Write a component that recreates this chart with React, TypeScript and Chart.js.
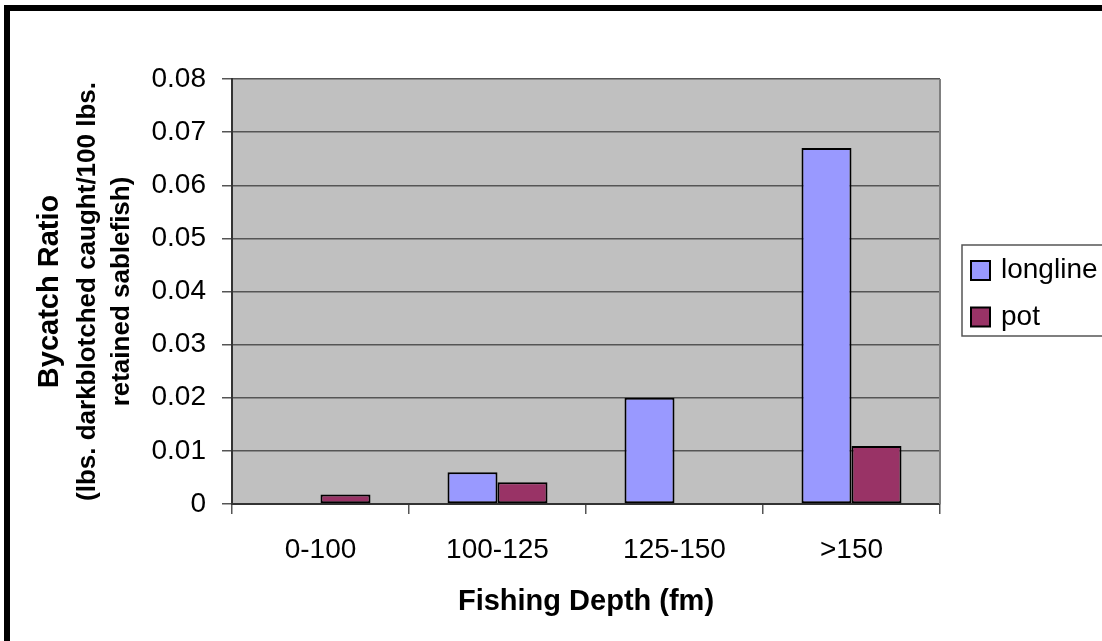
import React, { useEffect, useRef } from "react";
import { Chart, registerables } from "chart.js";

Chart.register(...registerables);

const categories = ["0-100", "100-125", "125-150", ">150"];
const longline = [null, 0.006, 0.02, 0.067];
const pot = [0.0018, 0.0041, null, 0.0109];
const seriesLabels = ["longline", "pot"];
const seriesColors = ["#9999FF", "#993366"];
const yTitleLines = ["Bycatch Ratio", "(lbs. darkblotched caught/100 lbs.", "retained sablefish)"];
const xTitle = "Fishing Depth (fm)";

const FONT = "'Liberation Sans', Arial, sans-serif";

const decorPlugin = {
  id: "decor",
  beforeDraw(chart: any) {
    const { ctx, chartArea } = chart;
    ctx.save();
    ctx.fillStyle = "#ffffff";
    ctx.fillRect(0, 0, chart.width, chart.height);
    ctx.fillStyle = "#C0C0C0";
    ctx.fillRect(chartArea.left, chartArea.top, chartArea.right - chartArea.left, chartArea.bottom - chartArea.top);
    ctx.restore();
  },
  afterDraw(chart: any) {
    const { ctx, chartArea } = chart;
    ctx.save();
    // plot area right border
    ctx.strokeStyle = "#808080";
    ctx.lineWidth = 2;
    ctx.beginPath();
    ctx.moveTo(chartArea.right, chartArea.top);
    ctx.lineTo(chartArea.right, chartArea.bottom);
    ctx.stroke();
    // outer black frame
    ctx.fillStyle = "#000000";
    ctx.fillRect(4, 5, chart.width, 6);
    ctx.fillRect(4, 5, 6, chart.height);
    // y title
    const cy = (chartArea.top + chartArea.bottom) / 2;
    ctx.fillStyle = "#000000";
    ctx.textAlign = "center";
    ctx.textBaseline = "middle";
    const xs = [50, 88, 122];
    const sizes = [29, 26, 26];
    yTitleLines.forEach((line, i) => {
      ctx.save();
      ctx.translate(xs[i], cy);
      ctx.rotate(-Math.PI / 2);
      ctx.font = `bold ${sizes[i]}px ${FONT}`;
      ctx.fillText(line, 0, 0);
      ctx.restore();
    });
    // x title
    ctx.font = `bold 29px ${FONT}`;
    ctx.fillText(xTitle, (chartArea.left + chartArea.right) / 2, 602);
    // legend
    const lx = 962, ly = 245, lb = 336;
    ctx.fillStyle = "#ffffff";
    ctx.fillRect(lx, ly, 200, lb - ly);
    ctx.strokeStyle = "#555555";
    ctx.lineWidth = 1.5;
    ctx.strokeRect(lx, ly, 200, lb - ly);
    const rows = [270.5, 317];
    chart.data.datasets.forEach((ds: any, i: number) => {
      const y = rows[i];
      ctx.fillStyle = ds.backgroundColor;
      ctx.fillRect(971, y - 9.5, 19, 19);
      ctx.strokeStyle = "#000000";
      ctx.lineWidth = 2;
      ctx.strokeRect(971, y - 9.5, 19, 19);
      ctx.fillStyle = "#000000";
      ctx.font = `28px ${FONT}`;
      ctx.textAlign = "left";
      ctx.textBaseline = "middle";
      ctx.fillText(ds.label, 1001, y);
    });
    ctx.restore();
  },
};

export default function App() {
  const ref = useRef<HTMLCanvasElement | null>(null);
  useEffect(() => {
    document.body.style.margin = "0";
    const chart = new Chart(ref.current as HTMLCanvasElement, {
      type: "bar",
      data: {
        labels: categories,
        datasets: [
          {
            label: seriesLabels[0],
            data: longline,
            backgroundColor: seriesColors[0],
            borderColor: "#000000",
            borderWidth: 2,
            borderSkipped: false,
            categoryPercentage: 0.565,
            barPercentage: 1,
          },
          {
            label: seriesLabels[1],
            data: pot,
            backgroundColor: seriesColors[1],
            borderColor: "#000000",
            borderWidth: 2,
            borderSkipped: false,
            categoryPercentage: 0.565,
            barPercentage: 1,
          },
        ],
      },
      options: {
        responsive: false,
        animation: false,
        layout: { padding: { left: 0, top: 79, right: 162, bottom: 0 } },
        plugins: { legend: { display: false }, tooltip: { enabled: false } },
        scales: {
          y: {
            min: 0,
            max: 0.08,
            ticks: {
              stepSize: 0.01,
              color: "#000000",
              font: { family: FONT, size: 28 },
              padding: 16,
              callback: (v: any) => (Number(v) === 0 ? "0" : Number(v).toFixed(2)),
            },
            grid: { color: "#555555", lineWidth: 1.5, tickLength: 10, drawTicks: true },
            border: { display: true, color: "#333333", width: 2 },
            afterFit: (s: any) => {
              s.width = 232;
            },
          },
          x: {
            ticks: { color: "#000000", font: { family: FONT, size: 28 }, padding: 19 },
            grid: { drawOnChartArea: false, drawTicks: true, tickLength: 10, color: "#555555", lineWidth: 1.5, offset: true },
            border: { display: true, color: "#333333", width: 2 },
            afterFit: (s: any) => {
              s.height = 137;
            },
          },
        },
      },
      plugins: [decorPlugin],
    });
    return () => chart.destroy();
  }, []);
  return (
    <div style={{ position: "absolute", left: 0, top: 0, width: 1102, height: 641, overflow: "hidden" }}>
      <canvas ref={ref} width={1102} height={641} />
    </div>
  );
}
